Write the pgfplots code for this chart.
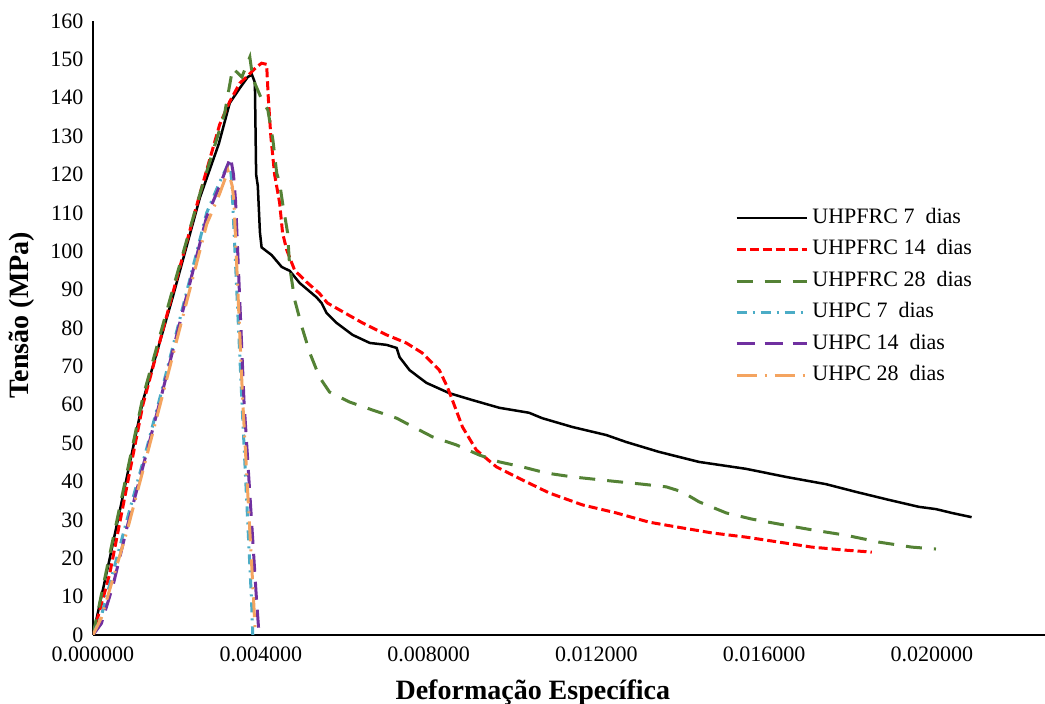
\documentclass[border=0pt]{standalone}
\usepackage{fontspec}
\setmainfont{Liberation Serif}
\usepackage{pgfplots}
\pgfplotsset{compat=1.18}
\definecolor{cRed}{RGB}{255,0,0}
\definecolor{cGreen}{RGB}{84,130,53}
\definecolor{cTeal}{RGB}{75,172,198}
\definecolor{cPurple}{RGB}{112,48,160}
\definecolor{cOrange}{RGB}{244,164,96}
\begin{document}
\begin{tikzpicture}
\useasboundingbox (-46.5pt,-34.5pt) rectangle (476pt,317.5pt);
\begin{axis}[
  at={(0,0)}, anchor=origin,
  scale only axis, width=476pt, height=307pt,
  xmin=0, xmax=0.0227, ymin=0, ymax=160,
  axis x line*=bottom, axis y line*=left,
  x axis line style={-, line width=1pt}, y axis line style={-, line width=1pt},
  major tick length=0pt,
  xtick={0,0.004,0.008,0.012,0.016,0.020},
  xticklabels={0.000000,0.004000,0.008000,0.012000,0.016000,0.020000},
  scaled x ticks=false,
  ytick={0,10,...,160},
  /pgf/number format/assume math mode=true,
  ticklabel style={font=\fontsize{11}{13}\selectfont},
  xticklabel style={yshift=-2.3pt},
  yticklabel style={xshift=-1.3pt},
  xlabel={Deformação Específica},
  ylabel={Tensão (MPa)},
  label style={font=\bfseries\fontsize{14}{16}\selectfont},
  xlabel style={at={(axis description cs:0.462,-0.0935)}, anchor=center},
  ylabel style={at={(axis description cs:-0.0746,0.521)}, anchor=center},
  legend cell align=left,
  legend image code/.code={\draw[#1] (0pt,0pt) -- (35pt,0pt);},
  legend style={at={(rel axis cs:0.674,0.705)}, anchor=north west, draw=none, fill=none,
    inner sep=0pt, row sep=0pt, font=\fontsize{11}{13}\selectfont,
    nodes={inner sep=2.2pt, text height=8.3pt, text depth=3pt}},
]
\addplot[black, line width=1.25pt] coordinates {
(0,0) (0.00040,20) (0.00119,61) (0.00190,88) (0.00255,114) (0.00300,128) (0.00326,138.6)
(0.00350,142.5) (0.00369,145.4) (0.00379,146) (0.00386,144) (0.00389,120) (0.00393,117)
(0.00398,105) (0.00402,101) (0.00426,99) (0.00450,95.9) (0.00469,94.9) (0.00493,91.7)
(0.00533,88) (0.00545,86.5) (0.00557,83.9) (0.00581,81.3) (0.00619,78.2) (0.00660,76.1)
(0.00700,75.6) (0.00724,74.8) (0.00731,72.4) (0.00755,69) (0.00795,65.7) (0.00850,63)
(0.00905,61.2) (0.00969,59.2) (0.01040,57.9) (0.01071,56.5) (0.01143,54.2) (0.01224,52.1)
(0.01271,50.3) (0.01350,47.7) (0.01445,45.1) (0.01557,43.3) (0.01652,41.2) (0.01748,39.3)
(0.01819,37.3) (0.01898,35.2) (0.01969,33.4) (0.02010,32.8) (0.02048,31.8) (0.02095,30.7)
};
\addlegendentry{UHPFRC 7~~dias}
\addplot[cRed, line width=1.5pt, dash pattern=on 4.5pt off 2pt] coordinates {
(0,0) (0.00040,16) (0.00119,60) (0.00190,89) (0.00255,115) (0.00302,133) (0.00326,139)
(0.00350,143.8) (0.00367,145.5) (0.00390,148) (0.00402,149) (0.00414,148.7) (0.00418,140)
(0.00424,130) (0.00433,120) (0.00445,112.6) (0.00452,104.8) (0.00462,100.3) (0.00481,95)
(0.00509,92) (0.00540,89) (0.00559,86.5) (0.00588,84.7) (0.00643,81.3) (0.00700,78.2)
(0.00747,76.1) (0.00785,73.5) (0.00826,69) (0.00845,64.6) (0.00857,61.2) (0.00881,54.2)
(0.00914,48.2) (0.00962,43.8) (0.01024,40.4) (0.01088,37) (0.01167,33.9) (0.01248,31.8)
(0.01326,29.4) (0.01405,27.9) (0.01476,26.6) (0.01557,25.5) (0.01636,24.2) (0.01714,22.9)
(0.01795,22.1) (0.01857,21.6)
};
\addlegendentry{UHPFRC 14~~dias}
\addplot[cGreen, line width=1.5pt, dash pattern=on 8pt off 6pt] coordinates {
(0,0) (0.00040,21) (0.00119,62) (0.00190,90) (0.00255,115) (0.00314,136) (0.00333,147.7)
(0.00355,145.4) (0.00374,150.6) (0.00381,145) (0.00405,138.9) (0.00417,136.8) (0.00429,129)
(0.00438,120.4) (0.00445,117.8) (0.00452,112.6) (0.00464,104.8) (0.00469,95.9) (0.00481,87.3)
(0.00498,80.3) (0.00517,73.5) (0.00540,67.2) (0.00564,63.3) (0.00612,60.7) (0.00667,58.6)
(0.00724,56.5) (0.00750,55) (0.00810,51.6) (0.00867,49.5) (0.00921,46.9) (0.00969,45.1)
(0.01024,43.8) (0.01081,42.2) (0.01143,41.2) (0.01238,40.1) (0.01310,39.3) (0.01367,38.6)
(0.01405,37.3) (0.01445,34.7) (0.01510,31.8) (0.01571,30.2) (0.01636,28.9) (0.01714,27.4)
(0.01795,26) (0.01874,24.2) (0.01952,22.9) (0.02010,22.4)
};
\addlegendentry{UHPFRC 28~~dias}
\addplot[cTeal, line width=1.5pt, dash pattern=on 5pt off 3pt on 1pt off 3pt] coordinates {
(0,0) (0.00020,5) (0.00081,30) (0.00129,49) (0.00160,62) (0.00271,110) (0.00302,118)
(0.00326,123.5) (0.00331,118) (0.00333,113) (0.00355,61) (0.00378,9) (0.00381,0)
};
\addlegendentry{UHPC 7~~dias}
\addplot[cPurple, line width=1.5pt, dash pattern=on 9pt off 5pt] coordinates {
(0,0) (0.00020,3) (0.00048,13) (0.00081,28) (0.00129,48) (0.00160,61) (0.00271,109)
(0.00302,117) (0.00328,124.5) (0.00335,120) (0.00340,113) (0.00360,61) (0.00390,9) (0.00396,0)
};
\addlegendentry{UHPC 14~~dias}
\addplot[cOrange, line width=1.5pt, dash pattern=on 10pt off 4pt on 1pt off 4pt] coordinates {
(0,0) (0.00020,4.5) (0.00081,27) (0.00129,47) (0.00160,60) (0.00271,107) (0.00302,115)
(0.00322,121) (0.00332,117) (0.00336,113) (0.00357,61) (0.00383,9) (0.00387,0)
};
\addlegendentry{UHPC 28~~dias}
\node[anchor=base, font=\fontsize{14}{16}\selectfont] at (rel axis cs:0.464,1.039) {(a)};
\end{axis}
\end{tikzpicture}
\end{document}
